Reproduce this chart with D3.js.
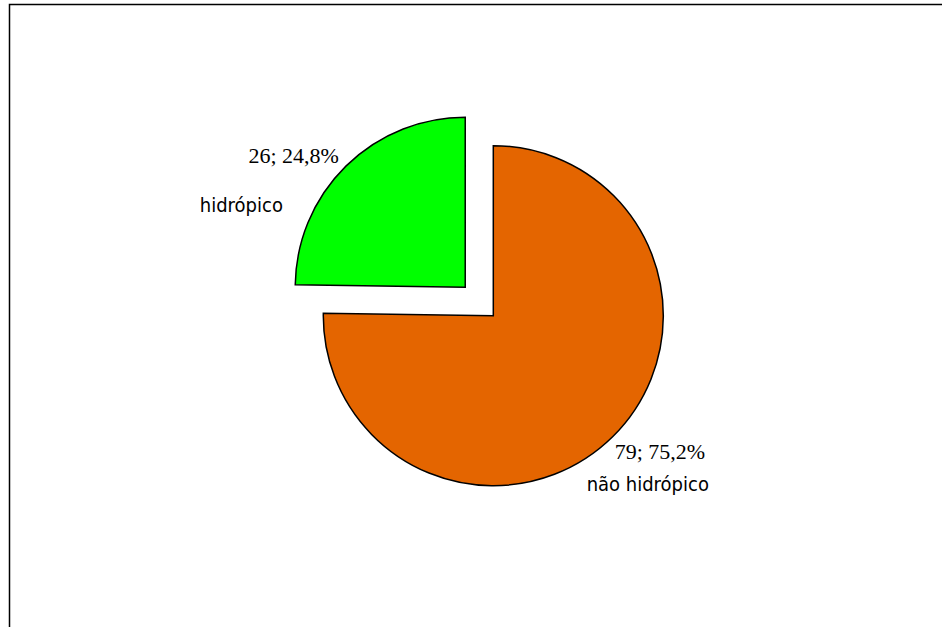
<!DOCTYPE html>
<html>
<head>
<meta charset="utf-8">
<script src="https://cdn.jsdelivr.net/npm/d3@7"></script>
<style>
  body { margin: 0; background: #fff; }
  svg { display: block; }
</style>
</head>
<body>
<div id="chart"></div>
<script>
// data
const categories = ["não hidrópico", "hidrópico"];
const counts = [79, 26];
const colors = ["#E46500", "#00FF00"];
const exploded = [false, true];

const width = 942, height = 627;
const cx = 493.3, cy = 315.7, radius = 170, explode = 40;

const svg = d3.select("#chart").append("svg")
  .attr("width", width)
  .attr("height", height);

// frame (only top and left edges show in the picture)
svg.append("path")
  .attr("d", `M9.5,${height} V4.5 H${width}`)
  .attr("fill", "none")
  .attr("stroke", "#000")
  .attr("stroke-width", 1.5);

const total = d3.sum(counts);
const data = categories.map((c, i) => ({ name: c, value: counts[i], color: colors[i], out: exploded[i] }));

const pie = d3.pie().sort(null).value(d => d.value);
const arc = d3.arc().innerRadius(0).outerRadius(radius);
const arcs = pie(data);

function shift(d) {
  if (!d.data.out) return [0, 0];
  const a = (d.startAngle + d.endAngle) / 2;
  return [Math.sin(a) * explode, -Math.cos(a) * explode];
}

const g = svg.append("g").attr("transform", `translate(${cx},${cy})`);

g.selectAll("path.slice")
  .data(arcs)
  .enter().append("path")
  .attr("class", "slice")
  .attr("d", arc)
  .attr("transform", d => `translate(${shift(d)})`)
  .attr("fill", d => d.data.color)
  .attr("stroke", "#000")
  .attr("stroke-width", 1.5)
  .attr("stroke-linejoin", "miter");

// labels: value line (serif) and category line (sans)
const fmt = v => (v * 100).toFixed(1).replace(".", ",") + "%";
const labelOffsets = [
  { val: [-12, 8], cat: [-40, 40], anchor: "start" },
  { val: [7, 11], cat: [-49, 60], anchor: "end" }
];

arcs.forEach((d, i) => {
  const a = (d.startAngle + d.endAngle) / 2;
  const [sx, sy] = shift(d);
  const px = sx + Math.sin(a) * (radius + 20);
  const py = sy - Math.cos(a) * (radius + 20);
  const o = labelOffsets[i];
  g.append("text")
    .attr("x", px + o.val[0])
    .attr("y", py + o.val[1])
    .attr("text-anchor", o.anchor)
    .attr("font-family", "'Liberation Serif', 'Times New Roman', serif")
    .attr("font-size", "22px")
    .attr("fill", "#000")
    .text(`${d.data.value}; ${fmt(d.data.value / total)}`);
  g.append("text")
    .attr("x", px + o.cat[0])
    .attr("y", py + o.cat[1])
    .attr("text-anchor", o.anchor)
    .attr("font-family", "'DejaVu Sans Condensed', 'DejaVu Sans', sans-serif")
    .attr("font-size", "20px")
    .attr("fill", "#000")
    .text(d.data.name);
});
</script>
</body>
</html>
